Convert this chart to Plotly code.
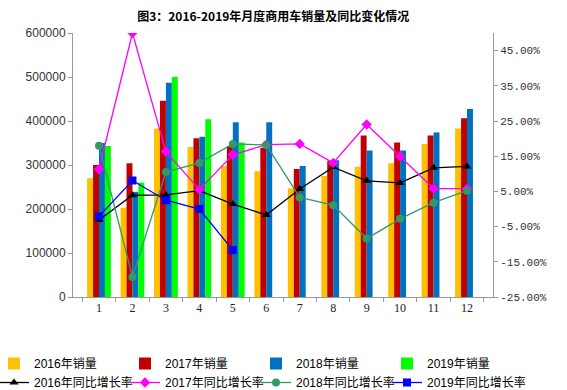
import plotly.graph_objects as go

months = ["1", "2", "3", "4", "5", "6", "7", "8", "9", "10", "11", "12"]

sales_2016 = [270000, 203000, 383000, 341000, 298000, 286000, 247000, 275000, 296000, 304000, 348000, 383000]
sales_2017 = [300000, 304000, 446000, 361000, 343000, 339000, 291000, 309000, 367000, 351000, 367000, 406000]
sales_2018 = [350000, 239000, 487000, 364000, 397000, 397000, 298000, 311000, 333000, 333000, 374000, 427000]
sales_2019 = [343000, 260000, 500000, 404000, 351000]

yoy_2016 = [-3.1, 3.9, 4.0, 5.2, 1.4, -1.7, 5.7, 11.9, 8.0, 7.4, 11.7, 12.1]
yoy_2017 = [11.3, 50.0, 16.3, 5.5, 15.4, 18.3, 18.5, 13.1, 24.0, 15.0, 5.8, 5.8]
yoy_2018 = [18.0, -19.3, 10.5, 13.1, 18.5, 18.2, 3.3, 1.1, -8.4, -2.8, 1.8, 5.2]
yoy_2019 = [-2.1, 8.1, 2.5, 0.0, -11.7]

pct_ticks = [-25, -15, -5, 5, 15, 25, 35, 45]
pct_labels = ["%.2f%%" % v for v in pct_ticks]
sales_ticks = [0, 100000, 200000, 300000, 400000, 500000, 600000]

cjk = "Liberation Sans, Noto Sans CJK SC, sans-serif"
legend_ids = ["legend", "legend2", "legend3", "legend4"]

fig = go.Figure()
bar_specs = [
    ("2016年销量", sales_2016, "#FFC000"),
    ("2017年销量", sales_2017, "#C00000"),
    ("2018年销量", sales_2018, "#0070C0"),
    ("2019年销量", sales_2019, "#00FF00"),
]
for i, (name, vals, col) in enumerate(bar_specs):
    fig.add_trace(go.Bar(x=months[:len(vals)], y=vals, name=name, legend=legend_ids[i],
                         marker=dict(color=col, line=dict(width=0))))

line_specs = [
    ("2016年同比增长率", yoy_2016, "#000000", "triangle-up", 8),
    ("2017年同比增长率", yoy_2017, "#FF00FF", "diamond", 8),
    ("2018年同比增长率", yoy_2018, "#339966", "circle", 8),
    ("2019年同比增长率", yoy_2019, "#0000FF", "square", 8),
]
for i, (name, vals, col, sym, sz) in enumerate(line_specs):
    fig.add_trace(go.Scatter(x=months[:len(vals)], y=vals, name=name, yaxis="y2",
                             legend=legend_ids[i], mode="lines+markers",
                             line=dict(color=col, width=1.3),
                             marker=dict(symbol=sym, size=sz, color=col)))

legend_style = dict(orientation="v", yanchor="top", xanchor="left", y=-0.197,
                    font=dict(family=cjk, size=12, color="#000"), itemwidth=30,
                    tracegroupgap=0, bgcolor="rgba(0,0,0,0)", traceorder="normal")
legend_x = [-6, 125, 256, 387]  # pixel offsets from page left
plot_left, plot_w = 73, 420

fig.update_layout(
    width=567, height=390,
    margin=dict(l=plot_left, r=74, t=33, b=93, autoexpand=False),
    paper_bgcolor="white", plot_bgcolor="white",
    barmode="group", bargap=0.29, bargroupgap=0,
    title=dict(text="<b>图3：2016-2019年月度商用车销量及同比变化情况</b>",
               x=0.482, xref="container", xanchor="center", y=0.956, yref="container",
               yanchor="middle",
               font=dict(family="Noto Sans CJK SC, sans-serif", size=12, color="#000")),
    xaxis=dict(type="category", showline=True, linecolor="#999", linewidth=1,
               ticks="outside", tickson="boundaries", ticklen=4, tickcolor="#999",
               showgrid=False, automargin=False,
               tickfont=dict(family="Liberation Serif, serif", size=12, color="#222")),
    yaxis=dict(range=[0, 600000], tickvals=sales_ticks, ticktext=[str(v) for v in sales_ticks],
               showline=True, linecolor="#999", linewidth=1, ticks="outside", ticklen=4,
               tickcolor="#999", showgrid=False, zeroline=False, automargin=False,
               tickfont=dict(family="Liberation Sans, sans-serif", size=12, color="#333")),
    yaxis2=dict(range=[-25, 50], overlaying="y", side="right", tickvals=pct_ticks,
                ticktext=pct_labels, showline=True, linecolor="#999", linewidth=1,
                ticks="outside", ticklen=4, tickcolor="#999", showgrid=False, zeroline=False,
                automargin=False,
                tickfont=dict(family="Liberation Mono, monospace", size=11, color="#333")),
)
for lid, px in zip(legend_ids, legend_x):
    fig.update_layout({lid: dict(legend_style, x=(px - plot_left) / plot_w)})

fig.write_html("out.html", config={"displayModeBar": False},
               post_script="document.body.style.margin='0';")
